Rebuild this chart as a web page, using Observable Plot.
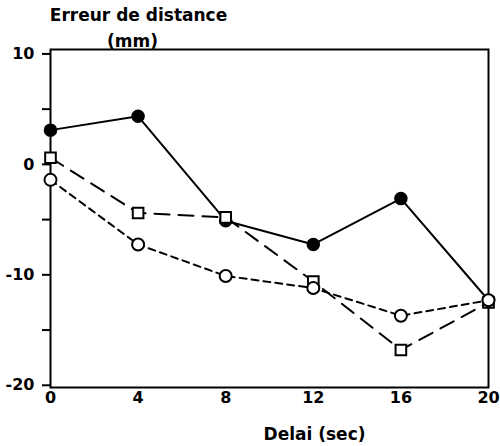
<!DOCTYPE html>
<html>
<head>
<meta charset="utf-8">
<script src="https://cdn.jsdelivr.net/npm/d3@7"></script>
<script src="https://cdn.jsdelivr.net/npm/@observablehq/plot@0.6"></script>
<style>
  body { margin: 0; background: #fff; }
</style>
</head>
<body>
<div id="chart"></div>
<script>
const delays = [0, 4, 8, 12, 16, 20];
const filledCircle = [3.1, 4.35, -5.1, -7.25, -3.1, -12.3];
const openSquare = [0.6, -4.4, -4.8, -10.6, -16.8, -12.5];
const openCircle = [-1.4, -7.25, -10.1, -11.2, -13.7, -12.3];
const yTicks = [-20, -15, -10, -5, 0, 5, 10];
const xTicks = [0, 4, 8, 12, 16, 20];
const yTitle = ["Erreur de distance", "(mm)"];
const xTitle = "Delai (sec)";

const mk = vals => delays.map((x, i) => ({x, y: vals[i]}));
const A = mk(filledCircle), B = mk(openSquare), C = mk(openCircle);

const font = "DejaVu Sans, Verdana, sans-serif";
const chart = Plot.plot({
  width: 500,
  height: 446,
  marginLeft: 50,
  marginRight: 12,
  marginTop: 49,
  marginBottom: 59,
  style: {fontFamily: font, fontWeight: "bold", fontSize: "16px", color: "#000", background: "#fff", overflow: "visible"},
  x: {domain: [0, 20], axis: null},
  y: {domain: [-20.2, 10.4], axis: null},
  marks: [
    Plot.axisY({ticks: yTicks, tickSize: 8, strokeWidth: 2, tickPadding: 8, fontSize: 16, fontWeight: "bold",
      tickFormat: d => d % 10 === 0 ? String(d) : "", label: null}),
    Plot.axisX({ticks: xTicks, tickSize: 0, tickPadding: 4, fontSize: 16, fontWeight: "bold",
      tickFormat: d => String(d), label: null}),
    Plot.frame({stroke: "#000", strokeWidth: 2}),
    Plot.line(A, {x: "x", y: "y", stroke: "#000", strokeWidth: 2}),
    Plot.line(B, {x: "x", y: "y", stroke: "#000", strokeWidth: 2, strokeDasharray: "15,9"}),
    Plot.line(C, {x: "x", y: "y", stroke: "#000", strokeWidth: 2, strokeDasharray: "7,5"}),
    Plot.dot(A, {x: "x", y: "y", r: 6, fill: "#000", stroke: "#000"}),
    Plot.dot(B, {x: "x", y: "y", r: 6, symbol: "square", fill: "#fff", stroke: "#000", strokeWidth: 2}),
    Plot.dot(C, {x: "x", y: "y", r: 6, fill: "#fff", stroke: "#000", strokeWidth: 2}),
    Plot.text([yTitle[0]], {text: d => d, frameAnchor: "top-left", dx: 88, dy: -34, textAnchor: "middle", lineAnchor: "middle", fontSize: 17, fontWeight: "bold"}),
    Plot.text([yTitle[1]], {text: d => d, frameAnchor: "top-left", dx: 82, dy: -8, textAnchor: "middle", lineAnchor: "middle", fontSize: 17, fontWeight: "bold"}),
    Plot.text([xTitle], {text: d => d, frameAnchor: "bottom", dx: 45, dy: 47, lineAnchor: "middle", fontSize: 17, fontWeight: "bold"})
  ]
});
document.getElementById("chart").appendChild(chart);
</script>
</body>
</html>
